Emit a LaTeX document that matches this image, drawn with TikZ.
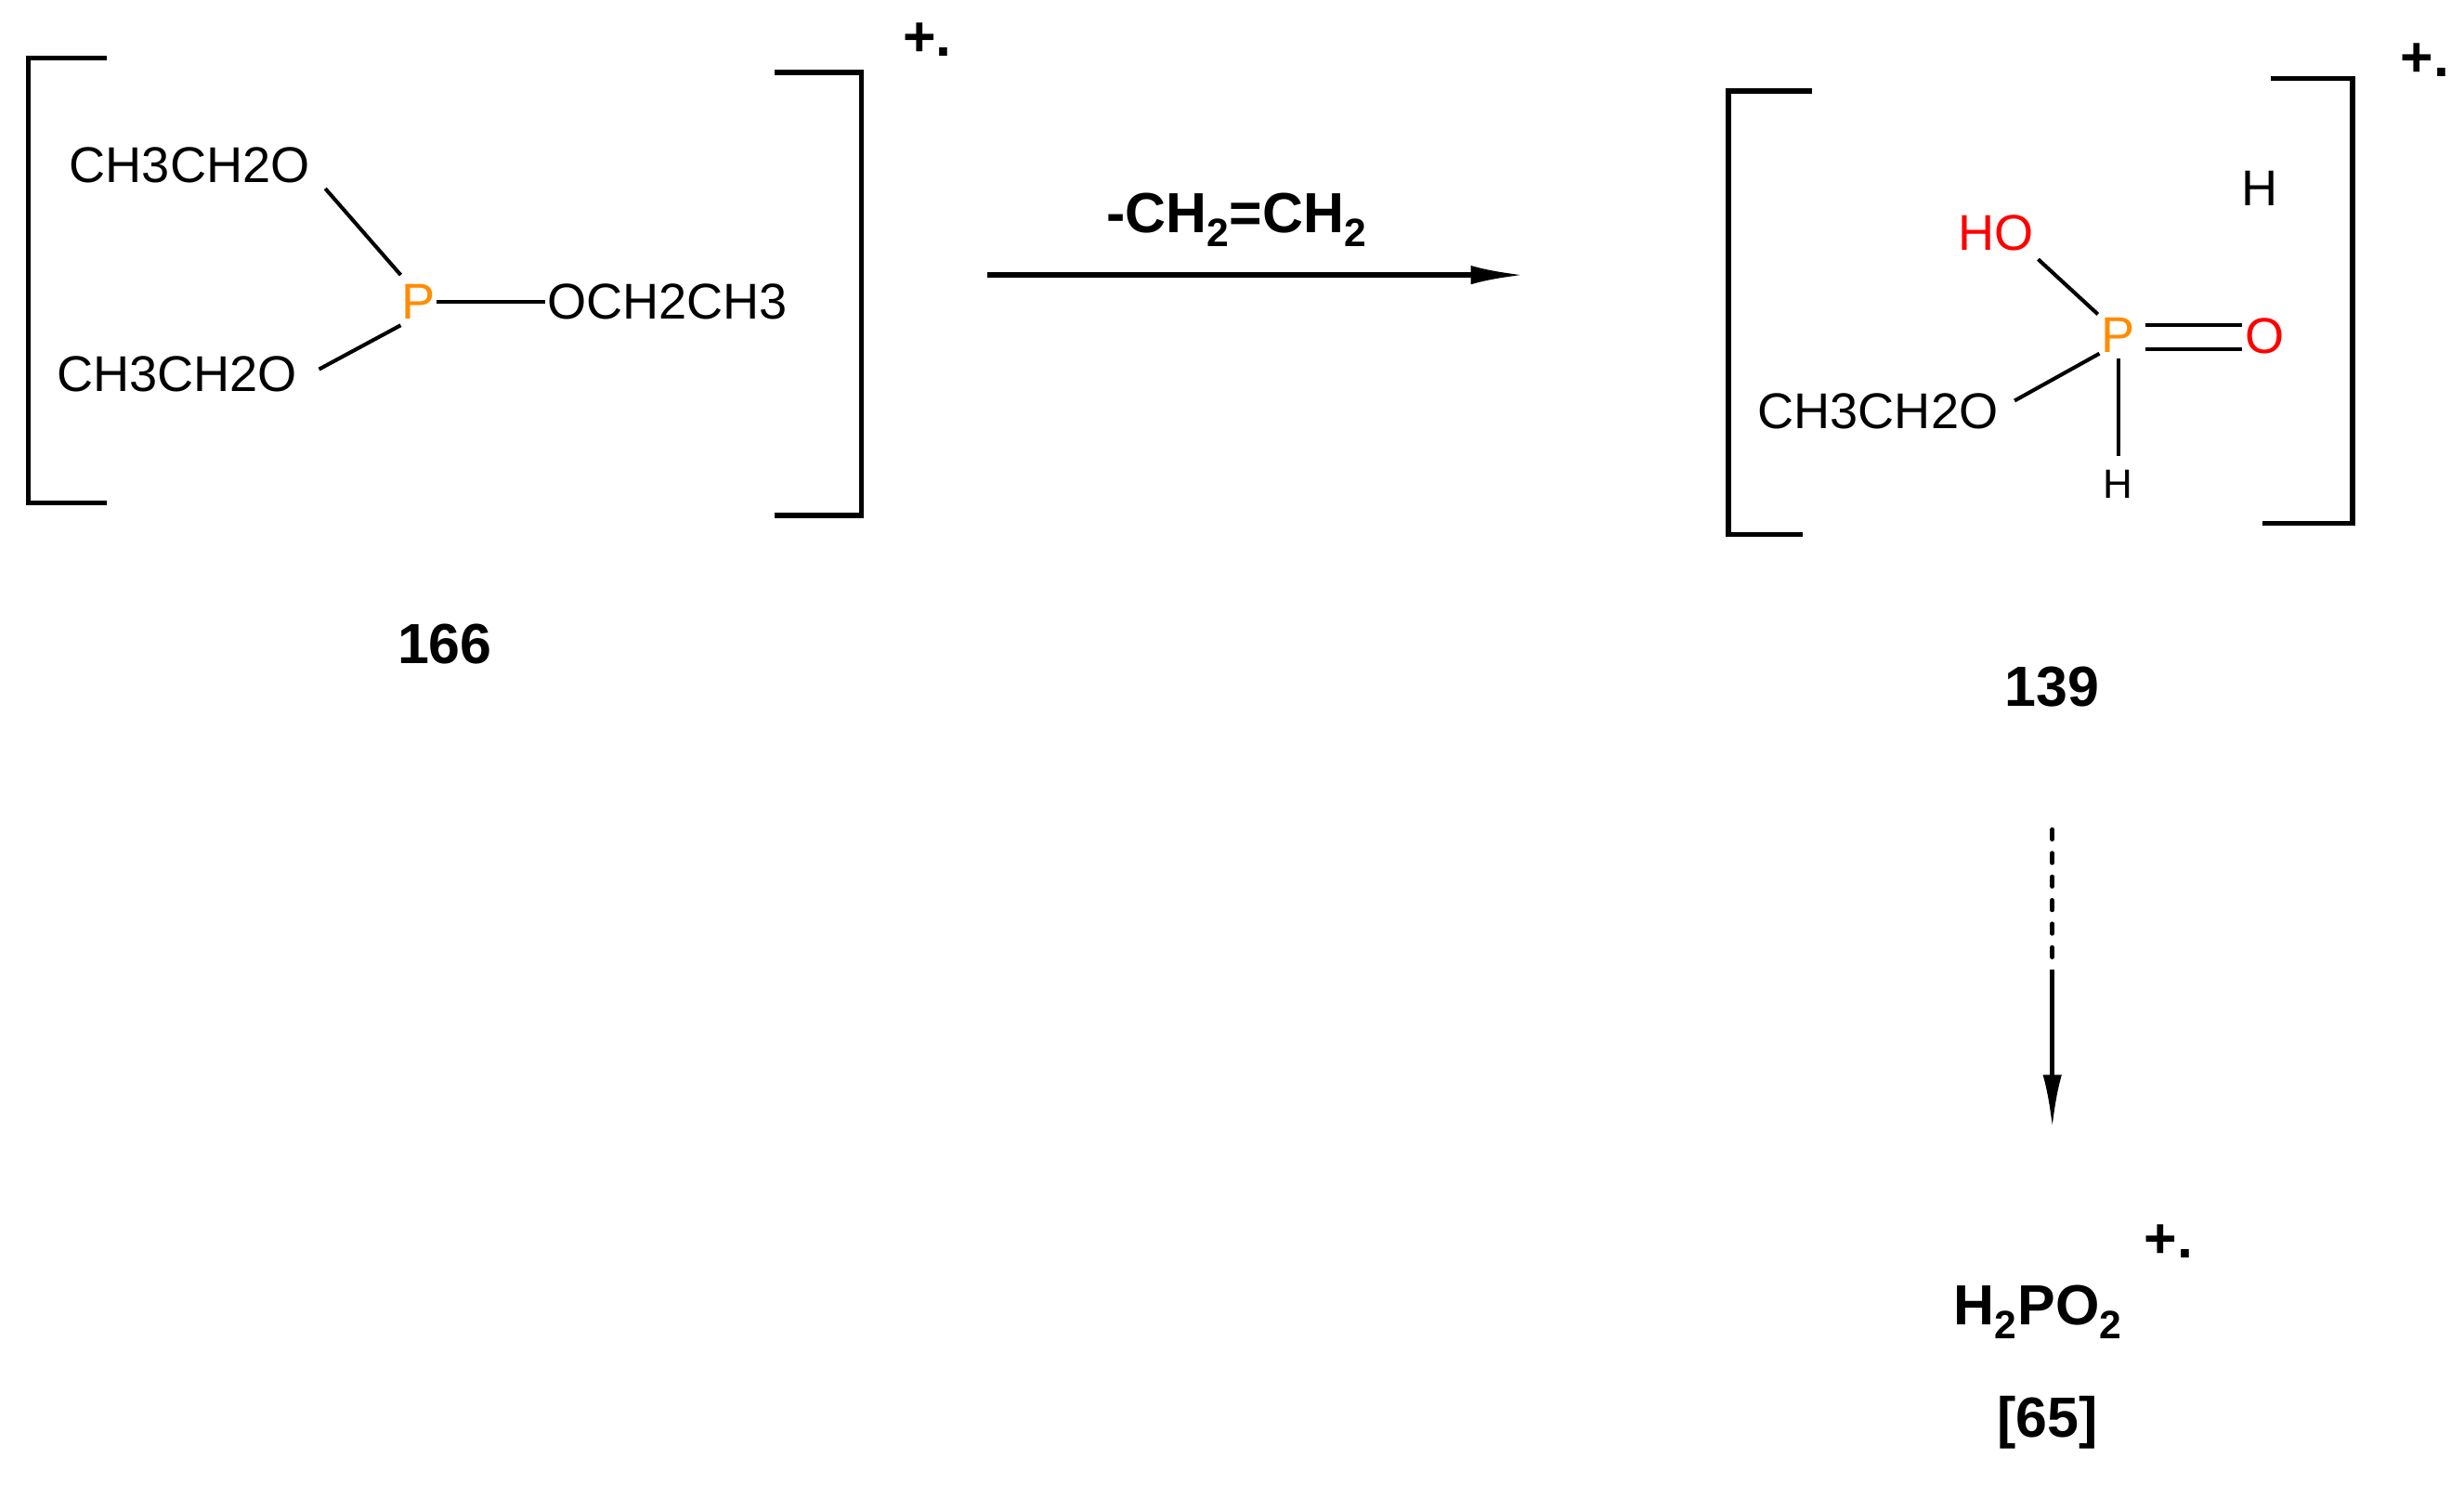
\documentclass[tikz,border=0pt]{standalone}
\usepackage{fontspec}
\usetikzlibrary{arrows.meta}
\setmainfont{Liberation Sans}
\definecolor{porange}{RGB}{255,140,0}
\begin{document}
\begin{tikzpicture}[x=1pt,y=-1pt,
  lbl/.style={font=\fontsize{32}{36}\selectfont,inner sep=1pt},
  bl/.style={font=\fontsize{36}{40}\selectfont\bfseries,inner sep=1pt},
  ln/.style={line width=3.2pt},
  bond/.style={line width=2.4pt},
  tip/.style={-{Latex[length=34pt,width=12pt]}}]
\useasboundingbox (0,0) rectangle (1568,945);
% left bracket
\draw[ln] (68,37) -- (18,37) -- (18,320) -- (68,320);
\draw[ln] (493,46) -- (548,46) -- (548,328) -- (493,328);
\node[bl] (c1) at (590,25) {+.};
\node[lbl,anchor=west] (a1) at (43,105) {CH3CH2O};
\node[lbl,text=porange] (p1) at (266,192) {P};
\node[lbl,anchor=west] (a2) at (347,192) {OCH2CH3};
\node[lbl,anchor=west] (a3) at (35,238) {CH3CH2O};
\draw[bond] (207,120) -- (255,175);
\draw[bond] (p1.east) -- (a2.west);
\draw[bond] (203,235) -- (255,207);
\node[bl] (n166) at (283,410) {166};
% arrow
\coordinate (r1) at (628,175); \coordinate (r2) at (970,175);
\draw[ln,tip] (r1) -- (r2);
\node[bl] (lab) at (787,140) {-CH\textsubscript{2}=CH\textsubscript{2}};
% right bracket
\draw[ln] (1153,58) -- (1100,58) -- (1100,340) -- (1147,340);
\draw[ln] (1445,50) -- (1497,50) -- (1497,333) -- (1440,333);
\node[bl] (c2) at (1543,38) {+.};
\node[lbl] (hh) at (1438,120) {H};
\node[lbl,text=red] (ho) at (1270,148) {HO};
\node[lbl,text=porange] (p2) at (1348,213) {P};
\node[lbl,text=red] (o2) at (1441,214) {O};
\node[lbl] (et) at (1195,262) {CH3CH2O};
\node[font=\fontsize{26}{30}\selectfont,inner sep=1pt] (h2) at (1348,308) {H};
\draw[bond] (1297,165) -- (1335,200);
\draw[bond] (1365,207) -- (1427,207);
\draw[bond] (1365,222) -- (1427,222);
\draw[bond] (1282,255) -- (1336,225);
\draw[bond] (1348,228) -- (1348,290);
\node[bl] (n139) at (1306,437) {139};
% dashed arrow
\coordinate (d1) at (1306,528); \coordinate (d2) at (1306,610); \coordinate (d3) at (1306,718);
\draw[line width=3pt,line cap=round,dash pattern=on 6pt off 9pt] (d1) -- (d2);
\draw[line width=3pt,tip] (1306,617) -- (d3);
\node[bl] (prod) at (1297,835) {H\textsubscript{2}PO\textsubscript{2}};
\node[bl] (c3) at (1380,790) {+.};
\node[bl] (n65) at (1303,905) {[65]};
\end{tikzpicture}
\end{document}
